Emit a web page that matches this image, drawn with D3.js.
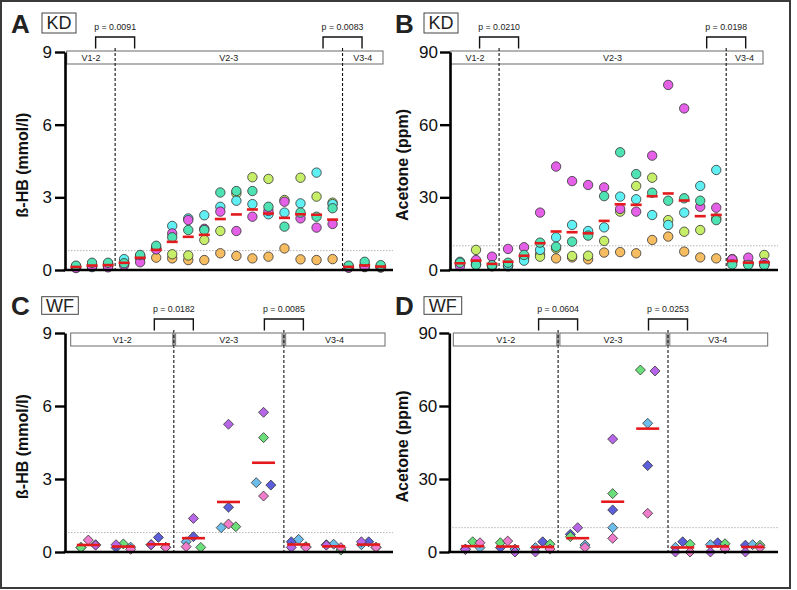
<!DOCTYPE html>
<html><head><meta charset="utf-8">
<script src="https://cdn.jsdelivr.net/npm/d3@7"></script>
<style>body{margin:0;background:#fff}svg{display:block}</style>
</head><body>
<svg id="c" width="797" height="590"></svg>
<script>
// ---------------- DATA ----------------
const groupLabels = ["V1-2", "V2-3", "V3-4"];
const hbTicks = [0, 3, 6, 9];
const acTicks = [0, 30, 60, 90];
const hbThreshold = 0.8;
const acThreshold = 10;

const kdSubjects = ["orange", "lime", "cyan", "magenta", "teal"];
// KD, beta-HB (mmol/l), 20 time points per subject
const kdHB_cyan    = [0.12,0.12,0.20,0.45,0.58,0.87,1.82,2.13,2.26,2.61,2.86,2.72,2.30,2.37,2.75,4.02,2.72,0.15,0.14,0.12];
const kdHB_teal    = [0.18,0.30,0.30,0.28,0.62,1.00,1.35,1.65,1.65,3.20,3.26,3.26,2.61,1.79,2.37,2.20,2.55,0.18,0.34,0.20];
const kdHB_lime    = [0.15,0.20,0.25,0.30,0.52,0.92,0.65,0.60,1.24,1.61,3.16,3.83,3.76,2.89,3.81,3.03,2.78,0.12,0.20,0.15];
const kdHB_magenta = [0.08,0.15,0.11,0.20,0.32,0.85,1.51,2.06,1.70,2.41,1.61,2.20,2.44,2.82,2.13,1.75,1.90,0.10,0.15,0.14];
const kdHB_orange  = [0.10,0.15,0.15,0.25,0.48,0.51,0.48,0.41,0.41,0.69,0.58,0.48,0.55,0.89,0.44,0.41,0.45,0.10,0.12,0.10];
// KD, acetone (ppm)
const kdAc_cyan    = [3.4,2.5,1.8,2.0,3.85,8.3,13.5,18.6,16.1,17.6,30.3,29.2,22.7,18.6,23.7,34.7,41.3,3.5,2.5,2.5];
const kdAc_teal    = [3.0,2.1,2.0,3.0,6.2,11.3,9.6,11.7,14.2,30.5,48.6,39.6,31.9,28.6,29.6,28.6,20.6,2.3,2.1,2.0];
const kdAc_lime    = [2.8,8.3,1.5,1.5,5.0,5.5,8.9,5.8,5.9,12.0,24.1,34.7,38.1,20.6,15.8,16.5,21.3,3.8,3.0,6.2];
const kdAc_magenta = [1.6,4.1,5.5,8.7,9.4,23.7,42.7,36.7,35.1,34.1,25.2,24.1,47.2,76.4,66.7,26.1,25.7,4.4,5.1,3.0];
const kdAc_orange  = [3.0,2.3,1.8,1.8,5.0,6.5,4.8,5.2,4.4,7.2,7.4,6.9,12.4,13.8,7.6,5.2,4.8,4.5,2.5,2.2];

const wfSubjects = ["blue", "sky", "green", "violet", "pink"];
// WF, beta-HB (mmol/l), 9 time points per subject
const wfHB_blue   = [0.19,0.18,0.60,0.63,1.84,2.75,0.42,0.30,0.42];
const wfHB_sky    = [0.30,0.20,0.30,0.42,1.00,2.85,0.52,0.32,0.30];
const wfHB_green  = [0.18,0.33,0.19,0.19,1.04,4.70,0.22,0.08,0.19];
const wfHB_violet = [0.28,0.30,0.30,1.38,5.25,5.74,0.19,0.28,0.42];
const wfHB_pink   = [0.49,0.11,0.19,0.22,1.15,2.30,0.19,0.18,0.19];
// WF, acetone (ppm)
const wfAc_blue   = [1.2,1.8,4.2,7.3,17.3,35.5,4.2,3.8,2.8];
const wfAc_sky    = [1.8,1.2,1.8,2.9,10.0,52.9,1.9,3.0,3.0];
const wfAc_green  = [4.2,3.8,3.2,6.3,24.0,74.8,3.2,3.4,2.8];
const wfAc_violet = [1.0,0.0,0.0,10.0,46.4,74.4,0.0,0.0,0.0];
const wfAc_pink   = [3.8,4.5,1.2,1.9,5.6,15.9,0.0,1.2,1.8];

const pA = ["p = 0.0091", "p = 0.0083"];
const pB = ["p = 0.0210", "p = 0.0198"];
const pC = ["p = 0.0182", "p = 0.0085"];
const pD = ["p = 0.0604", "p = 0.0253"];

// ---------------- STYLE ----------------
const colors = {
  cyan:"#60eff2", teal:"#4fe2b3", lime:"#c7ee68", magenta:"#e360e7", orange:"#f6bc62",
  blue:"#5c5fd9", sky:"#6dbdea", green:"#6be07a", violet:"#b666e7", pink:"#ef7bcb"
};
const FONT = "'Liberation Sans', Arial, Helvetica, sans-serif";

const svg = d3.select("#c");
svg.append("rect").attr("x",1).attr("y",1).attr("width",789).attr("height",587)
  .attr("fill","#fff").attr("stroke","#3a3a3a").attr("stroke-width",2);

function series(obj, subjects) { return subjects.map(s => ({subject:s, values:obj[s]})); }

const panels = [
  {letter:"A", tag:"KD", kind:"circle", ymax:9, ticks:hbTicks, title:"ß-HB (mmol/l)", thr:hbThreshold, p:pA,
   data: series({cyan:kdHB_cyan,teal:kdHB_teal,lime:kdHB_lime,magenta:kdHB_magenta,orange:kdHB_orange}, kdSubjects),
   axisX:65, x0:76, x1:380.7, yTop:52, yBottom:270, baseEnd:393, hL:66.7, hR:383, hT:51, hH:13, div:[2.44,16.62],
   letterX:11, letterY:33, boxX:42, boxY:13, boxW:34, boxH:20, titleX:28, split:false, meanW:11, tickPad:3},
  {letter:"B", tag:"KD", kind:"circle", ymax:90, ticks:acTicks, title:"Acetone (ppm)", thr:acThreshold, p:pB,
   data: series({cyan:kdAc_cyan,teal:kdAc_teal,lime:kdAc_lime,magenta:kdAc_magenta,orange:kdAc_orange}, kdSubjects),
   axisX:450, x0:460, x1:764.3, yTop:52, yBottom:270, baseEnd:778, hL:450.7, hR:763, hT:51, hH:13, div:[2.44,16.62],
   letterX:395, letterY:33, boxX:424, boxY:13, boxW:34, boxH:20, titleX:408, split:false, meanW:11, tickPad:2},
  {letter:"C", tag:"WF", kind:"diamond", ymax:9, ticks:hbTicks, title:"ß-HB (mmol/l)", thr:hbThreshold, p:pC,
   data: series({blue:wfHB_blue,sky:wfHB_sky,green:wfHB_green,violet:wfHB_violet,pink:wfHB_pink}, wfSubjects),
   axisX:65, x0:88.3, x1:368.7, yTop:333, yBottom:552, baseEnd:393, hL:70.7, hR:385, hT:333, hH:13, div:[2.44,5.58],
   letterX:11, letterY:315, boxX:41.7, boxY:296.7, boxW:36.6, boxH:17.6, titleX:28, split:true, meanW:23, tickPad:3},
  {letter:"D", tag:"WF", kind:"diamond", ymax:90, ticks:acTicks, title:"Acetone (ppm)", thr:acThreshold, p:pD,
   data: series({blue:wfAc_blue,sky:wfAc_sky,green:wfAc_green,violet:wfAc_violet,pink:wfAc_pink}, wfSubjects),
   axisX:449.3, x0:472.7, x1:752.7, yTop:333, yBottom:552, baseEnd:778, hL:453.3, hR:767.7, hT:333, hH:13, div:[2.44,5.58],
   letterX:395, letterY:315, boxX:424, boxY:296.7, boxW:37.7, boxH:17.6, titleX:408, split:true, meanW:23, tickPad:2}
];

// spread overlapping points of one column horizontally (symmetric clusters)
function spread(pts, y, subjects) {
  const sorted = pts.slice().sort((a,b) => b.v - a.v);
  const clusters = [];
  sorted.forEach(p => {
    p.py = y(p.v);
    const last = clusters[clusters.length-1];
    if (last && Math.abs(last[last.length-1].py - p.py) < 9) last.push(p); else clusters.push([p]);
  });
  clusters.forEach(cl => {
    if (cl.length === 1) { cl[0].k = 0; return; }
    if (cl.length === 2) { cl[0].k = -1; cl[1].k = 1; return; }
    cl[0].k = 0;
    const rest = cl.slice(1).sort((a,b) => subjects.indexOf(a.subject) - subjects.indexOf(b.subject));
    rest.forEach((p,i) => { p.k = (i % 2 === 0) ? -1 : 1; });
  });
}

panels.forEach(P => {
  const g = svg.append("g");
  const n = P.data[0].values.length;
  const subjects = P.data.map(s => s.subject);
  const x = d3.scaleLinear().domain([0, n-1]).range([P.x0, P.x1]);
  const y = d3.scaleLinear().domain([0, P.ymax]).range([P.yBottom, P.yTop]);

  // threshold dotted line
  g.append("line").attr("x1",P.axisX).attr("x2",P.baseEnd).attr("y1",y(P.thr)).attr("y2",y(P.thr))
    .attr("stroke","#b5b5b5").attr("stroke-width",1).attr("stroke-dasharray","1.5,1.5");

  // header boxes
  const dx = P.div.map(d => x(d));
  if (!P.split) {
    g.append("rect").attr("x",P.hL).attr("y",P.hT).attr("width",P.hR-P.hL).attr("height",P.hH)
      .attr("fill","#fff").attr("stroke","#6a6a6a").attr("stroke-width",1);
  } else {
    const segs = [[P.hL, dx[0]-1.2],[dx[0]+1.8, dx[1]-1.8],[dx[1]+1.8, P.hR]];
    segs.forEach(s => g.append("rect").attr("x",s[0]).attr("y",P.hT).attr("width",s[1]-s[0]).attr("height",P.hH)
      .attr("fill","#fff").attr("stroke","#6a6a6a").attr("stroke-width",1));
    dx.forEach(d => g.append("rect").attr("x",d-1.6).attr("y",P.hT).attr("width",3.2).attr("height",P.hH)
      .attr("fill","#9a9a9a"));
  }
  const bounds = [P.hL, dx[0], dx[1], P.hR];
  groupLabels.forEach((lab,i) => {
    g.append("text").attr("x",(bounds[i]+bounds[i+1])/2).attr("y",P.hT+P.hH/2+3.2)
      .attr("text-anchor","middle").attr("font-family",FONT).attr("font-size",9).attr("fill","#222").text(lab);
  });

  // dividers
  dx.forEach(d => g.append("line").attr("x1",d).attr("x2",d).attr("y1",P.hT-3).attr("y2",P.yBottom)
    .attr("stroke","#111").attr("stroke-width",1.1).attr("stroke-dasharray","3,2"));

  // p-value brackets
  dx.forEach((d,i) => {
    const top = P.hT - 14, bot = P.hT - 2.5, hw = 19.5;
    g.append("path").attr("d",`M${d-hw},${bot}V${top}H${d+hw}V${bot}`)
      .attr("fill","none").attr("stroke","#111").attr("stroke-width",1.4);
    g.append("text").attr("x",d).attr("y",top-7).attr("text-anchor","middle")
      .attr("font-family",FONT).attr("font-size",8.8).attr("fill","#222").text(P.p[i]);
  });

  // points
  const colsG = g.append("g");
  for (let c = 0; c < n; c++) {
    const pts = P.data.map(s => ({subject:s.subject, v:s.values[c]}));
    if (P.kind === "circle") {
      pts.forEach(p => colsG.append("circle").attr("cx",x(c)).attr("cy",y(p.v)).attr("r",4.7)
        .attr("fill",colors[p.subject]).attr("stroke","#333").attr("stroke-width",0.8));
    } else {
      const step = 7.3;
      spread(pts, y, subjects);
      pts.forEach(p => {
        const r = 5, px = x(c) + p.k*step;
        colsG.append("path").attr("d",`M${px},${p.py-r}L${px+r},${p.py}L${px},${p.py+r}L${px-r},${p.py}Z`)
          .attr("fill",colors[p.subject]).attr("stroke","#333").attr("stroke-width",0.8);
      });
    }
    // mean line
    const m = d3.mean(pts, p => p.v);
    colsG.append("line").attr("x1",x(c)-P.meanW/2).attr("x2",x(c)+P.meanW/2).attr("y1",y(m)).attr("y2",y(m))
      .attr("stroke","#e3191c").attr("stroke-width",2.6);
  }

  // axes
  const ax = g.append("g").attr("transform",`translate(${P.axisX},0)`)
    .call(d3.axisLeft(y).tickValues(P.ticks).tickSize(10).tickSizeOuter(0).tickPadding(P.tickPad));
  ax.select(".domain").attr("stroke","#000").attr("stroke-width",2.6);
  ax.selectAll(".tick line").attr("stroke","#000").attr("stroke-width",2.4);
  ax.selectAll(".tick text").attr("font-family",FONT).attr("font-size",17).attr("fill","#111");
  g.append("line").attr("x1",P.axisX-1.3).attr("x2",P.baseEnd).attr("y1",P.yBottom).attr("y2",P.yBottom)
    .attr("stroke","#000").attr("stroke-width",2.6);

  // axis title
  g.append("text").attr("transform",`translate(${P.titleX},${(P.yTop+P.yBottom)/2+4}) rotate(-90)`)
    .attr("text-anchor","middle").attr("font-family",FONT).attr("font-weight","bold").attr("font-size",16)
    .attr("fill","#111").text(P.title);

  // panel letter and tag
  g.append("text").attr("x",P.letterX).attr("y",P.letterY).attr("font-family",FONT).attr("font-weight","bold")
    .attr("font-size",26).attr("fill","#222").text(P.letter);
  g.append("rect").attr("x",P.boxX).attr("y",P.boxY).attr("width",P.boxW).attr("height",P.boxH)
    .attr("fill","#fff").attr("stroke","#444").attr("stroke-width",1);
  g.append("text").attr("x",P.boxX+P.boxW/2).attr("y",P.boxY+P.boxH/2+6.3).attr("text-anchor","middle")
    .attr("font-family",FONT).attr("font-size",18).attr("fill","#222").text(P.tag);
});
</script>
</body></html>
